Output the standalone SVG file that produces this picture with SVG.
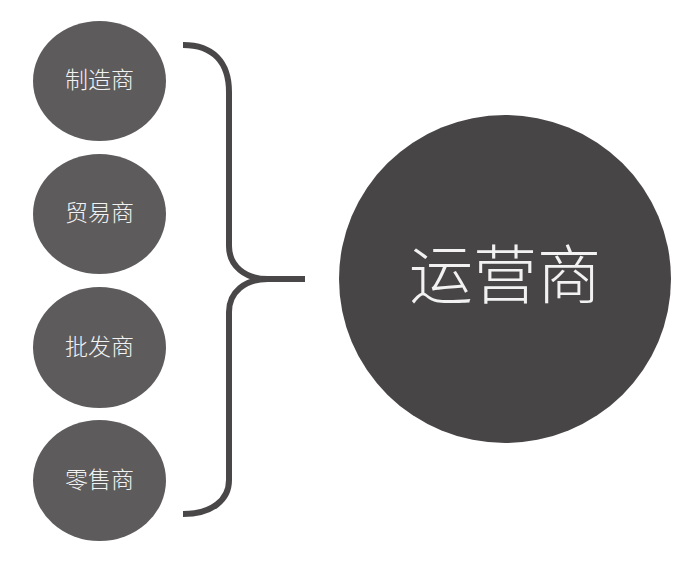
<svg xmlns="http://www.w3.org/2000/svg" width="693" height="573" viewBox="0 0 693 573">
<style>
.small{fill:#5d5b5c}
.big{fill:#484546}
.lbl{font-family:"Noto Sans CJK SC","Noto Sans",sans-serif;font-weight:300;fill:#f2f2f2;text-anchor:middle;dominant-baseline:central}
.brace{fill:none;stroke:#4a4748;stroke-width:6;stroke-linecap:butt;stroke-linejoin:round}
</style>
<rect width="693" height="573" fill="#ffffff"/>
<g id="connectors">
<path class="brace" d="M183,45 C213,45 229,62 229,92 L229,246 C229,266 245,279 268,279 L305,279 M268,279 C245,279 229,292 229,312 L229,480 C229,500 212,514 183,514"/>
</g>
<g id="node-zhizaoshang">
<ellipse class="small" cx="99.5" cy="81" rx="66.5" ry="60"/>
<text class="lbl" x="99.5" y="78" font-size="23">制造商</text>
</g>
<g id="node-maoyishang">
<ellipse class="small" cx="99.5" cy="214" rx="66.5" ry="60"/>
<text class="lbl" x="99.5" y="211" font-size="23">贸易商</text>
</g>
<g id="node-pifashang">
<ellipse class="small" cx="99.5" cy="347.5" rx="66.5" ry="60.5"/>
<text class="lbl" x="99.5" y="345" font-size="23">批发商</text>
</g>
<g id="node-lingshoushang">
<ellipse class="small" cx="99.5" cy="480.5" rx="66.5" ry="60.5"/>
<text class="lbl" x="99.5" y="478" font-size="23">零售商</text>
</g>
<g id="node-yunyingshang">
<ellipse class="big" cx="505" cy="279" rx="166" ry="164"/>
<text class="lbl" x="505" y="270" font-size="64">运营商</text>
</g>
</svg>
